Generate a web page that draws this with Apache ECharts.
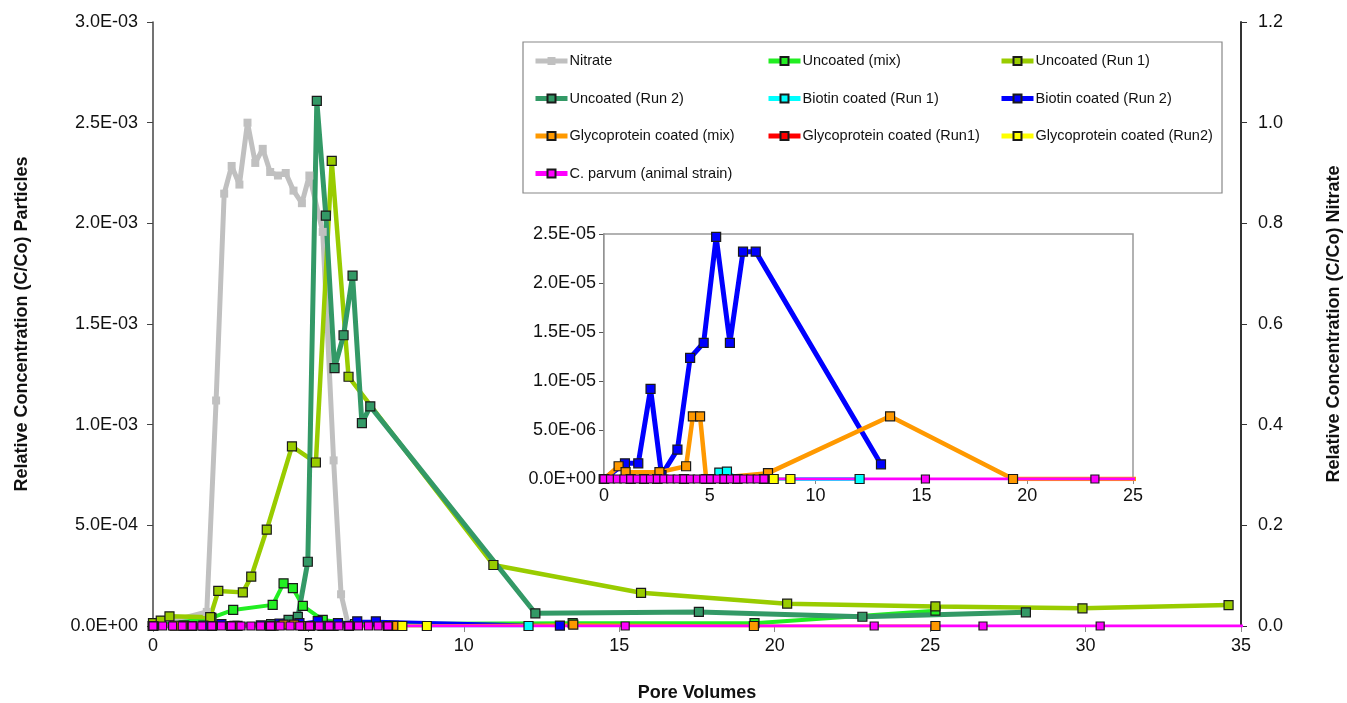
<!DOCTYPE html>
<html>
<head>
<meta charset="utf-8">
<title>Pore volumes breakthrough</title>
<script src="https://cdn.jsdelivr.net/npm/echarts@6/dist/echarts.min.js"></script>
<style>
  html, body { margin: 0; padding: 0; background: #fff; }
  #chart { width: 1347px; height: 703px; }
</style>
</head>
<body>
<div id="chart"></div>
<script>
// [pore volumes, C/Co]
const nitrate = [[0, 0], [1.73, 0.028], [2.03, 0.448], [2.29, 0.859], [2.53, 0.914], [2.78, 0.877], [3.04, 1.0],
    [3.29, 0.92], [3.53, 0.948], [3.77, 0.902], [4.02, 0.895], [4.27, 0.9], [4.52, 0.865], [4.79, 0.84],
    [5.03, 0.895], [5.46, 0.783], [5.81, 0.329], [6.05, 0.063], [6.29, 0]];
const uncoatedMix = [[0, 0], [1.88, 4.0e-5], [2.58, 8.0e-5], [3.85, 1.05e-4], [4.2, 2.12e-4], [4.5, 1.88e-4],
    [4.82, 1.0e-4], [5.46, 3.0e-5], [6.5, 1.0e-5], [13.5, 1.4e-5], [19.35, 1.4e-5], [25.17, 7.6e-5]];
const uncoatedRun1 = [[0, 1.4e-5], [0.25, 2.7e-5], [0.53, 4.8e-5], [1.84, 4.4e-5], [2.1, 1.74e-4], [2.89, 1.67e-4],
    [3.16, 2.45e-4], [3.66, 4.79e-4], [4.47, 8.92e-4], [5.24, 8.12e-4], [5.75, 2.31e-3], [6.29, 1.238e-3],
    [10.95, 3.03e-4], [15.7, 1.65e-4], [20.4, 1.11e-4], [25.17, 9.7e-5], [29.9, 8.8e-5], [34.6, 1.04e-4]];
const uncoatedRun2 = [[0, 0], [1.9, 0], [3.8, 1.0e-5], [4.36, 3.0e-5], [4.66, 4.5e-5], [4.98, 3.19e-4],
    [5.27, 2.608e-3], [5.56, 2.038e-3], [5.84, 1.281e-3], [6.13, 1.444e-3], [6.42, 1.74e-3], [6.72, 1.008e-3],
    [6.99, 1.091e-3], [12.3, 6.3e-5], [17.56, 7.0e-5], [22.82, 4.6e-5], [28.08, 6.8e-5]];
const biotinRun1 = [[0, 0], [2.52, 0], [5.04, 0], [5.45, 6.5e-7], [5.81, 7.5e-7], [6.3, 0], [12.08, 0]];
const biotinRun2 = [[0, 0], [0.99, 1.6e-6], [1.62, 1.6e-6], [2.2, 9.2e-6], [2.72, 4e-7], [3.47, 3.0e-6],
    [4.07, 1.235e-5], [4.71, 1.39e-5], [5.3, 2.47e-5], [5.95, 1.39e-5], [6.57, 2.32e-5], [7.17, 2.32e-5],
    [13.09, 1.5e-6]];
const glycoMix = [[0, 0], [0.69, 1.3e-6], [1.02, 7e-7], [2.62, 7e-7], [3.88, 1.3e-6], [4.2, 6.4e-6], [4.54, 6.4e-6],
    [4.83, 0], [7.75, 6e-7], [13.52, 6.4e-6], [19.33, 0], [25.17, 0]];
const glycoRun1 = [[0, 0], [1.26, 0], [2.52, 0], [3.78, 0], [5.04, 0], [6.3, 0], [7.56, 0]];
const glycoRun2 = [[0, 0], [1.89, 0], [3.78, 0], [5.67, 0], [7.56, 0], [8.02, 0], [8.81, 0]];
const cParvum = [[0, 0], [0.31, 0], [0.63, 0], [0.94, 0], [1.26, 0], [1.57, 0], [1.89, 0], [2.2, 0], [2.52, 0],
    [2.83, 0], [3.15, 0], [3.46, 0], [3.78, 0], [4.09, 0], [4.41, 0], [4.72, 0], [5.04, 0], [5.35, 0], [5.67, 0],
    [5.98, 0], [6.3, 0], [6.61, 0], [6.93, 0], [7.24, 0], [7.56, 0], [15.19, 0], [23.2, 0], [26.7, 0],
    [30.47, 0], [36.5, 0]];

const legendCols = [
    ['Nitrate', 'Uncoated (Run 2)', 'Glycoprotein coated (mix)', 'C. parvum (animal strain)'],
    ['Uncoated (mix)', 'Biotin coated (Run 1)', 'Glycoprotein coated (Run1)'],
    ['Uncoated (Run 1)', 'Biotin coated (Run 2)', 'Glycoprotein coated (Run2)']
];

const FONT = '"Liberation Sans", Arial, sans-serif';

// 3.0E-03 style labels like the spreadsheet
function sci(v) {
    const parts = v.toExponential(1).split('e');
    const n = parseInt(parts[1], 10);
    return parts[0] + 'E' + (n < 0 ? '-' : '+') + String(Math.abs(n)).padStart(2, '0');
}

function line(name, data, color, width, extra) {
    return Object.assign({
        name: name,
        type: 'line',
        data: data,
        symbol: 'rect',
        symbolSize: 9,
        lineStyle: { color: color, width: width },
        itemStyle: { color: color, borderColor: '#1a1a1a', borderWidth: 1.2 },
        emphasis: { disabled: true },
        animation: false
    }, extra || {});
}

const series = [
    line('Nitrate', nitrate, '#c0c0c0', 5, {
        yAxisIndex: 1, symbolSize: 8, itemStyle: { color: '#c0c0c0', borderWidth: 0 }
    }),
    line('Uncoated (mix)', uncoatedMix, '#22ee22', 4),
    line('Uncoated (Run 1)', uncoatedRun1, '#99cc00', 4.5),
    line('Uncoated (Run 2)', uncoatedRun2, '#339966', 5),
    line('Biotin coated (Run 1)', biotinRun1, '#00ffff', 3),
    line('Biotin coated (Run 2)', biotinRun2, '#0000ff', 3),
    line('Glycoprotein coated (mix)', glycoMix, '#ff9900', 3),
    line('Glycoprotein coated (Run1)', glycoRun1, '#ff0000', 3),
    line('Glycoprotein coated (Run2)', glycoRun2, '#ffff00', 3),
    line('C. parvum (animal strain)', cParvum, '#ff00ff', 3, { symbolSize: 8 })
];

// the inset repeats the coated runs on a finer scale
const insetSeries = [
    line('Biotin coated (Run 1)', biotinRun1, '#00ffff', 4),
    line('Biotin coated (Run 2)', biotinRun2, '#0000ff', 5),
    line('Glycoprotein coated (mix)', glycoMix, '#ff9900', 4.5),
    line('Glycoprotein coated (Run1)', glycoRun1, '#ff0000', 3),
    line('Glycoprotein coated (Run2)', glycoRun2, '#ffff00', 3),
    line('C. parvum (animal strain)', cParvum, '#ff00ff', 3, { symbolSize: 8 })
].map(s => Object.assign(s, { xAxisIndex: 1, yAxisIndex: 2 }));

const labelStyle = { fontSize: 18, color: '#111', fontFamily: FONT };
const nameStyle = { fontSize: 18, fontWeight: 'bold', color: '#111', fontFamily: FONT };

const legendLefts = [533, 766, 999];

const option = {
    backgroundColor: '#fff',
    textStyle: { fontFamily: FONT },
    animation: false,
    grid: [
        { left: 153, right: 106, top: 22, bottom: 77, outerBoundsMode: 'none', containLabel: false },
        { left: 604, right: 214, top: 234, bottom: 224, show: true, backgroundColor: '#fff',
          borderColor: '#999', borderWidth: 1.5, z: 1, outerBoundsMode: 'none', containLabel: false }
    ],
    legend: legendCols.map((col, i) => ({
        data: col,
        orient: 'vertical',
        left: legendLefts[i],
        top: 53,
        padding: 0,
        itemWidth: 32,
        itemHeight: 10,
        itemGap: 21.5,
        selectedMode: false,
        lineStyle: { width: 5 },
        textStyle: { fontSize: 14.5, color: '#111', fontFamily: FONT, lineHeight: 16, padding: [0, 0, 0, -3] }
    })),
    graphic: [{
        type: 'rect',
        shape: { x: 523, y: 42, width: 699, height: 151 },
        style: { fill: null, stroke: '#888', lineWidth: 1.2 },
        silent: true
    }],
    xAxis: [
        {
            type: 'value', gridIndex: 0, min: 0, max: 35, interval: 5,
            name: 'Pore Volumes', nameLocation: 'middle', nameGap: 58, nameTextStyle: nameStyle,
            axisLine: { onZero: false, lineStyle: { color: '#888', width: 1.5 } },
            axisTick: { show: true, length: 6, lineStyle: { color: '#888' } },
            axisLabel: Object.assign({ margin: 11 }, labelStyle),
            splitLine: { show: false }
        },
        {
            type: 'value', gridIndex: 1, min: 0, max: 25, interval: 5,
            axisLine: { onZero: false, lineStyle: { color: '#888', width: 1.5 } },
            axisTick: { show: true, length: 5, lineStyle: { color: '#888' } },
            axisLabel: Object.assign({ margin: 8 }, labelStyle),
            splitLine: { show: false }
        }
    ],
    yAxis: [
        {
            type: 'value', gridIndex: 0, min: 0, max: 3e-3, interval: 5e-4,
            name: 'Relative Concentration (C/Co) Particles', nameLocation: 'middle', nameGap: 122,
            nameRotate: 90, nameTextStyle: nameStyle,
            axisLine: { show: true, lineStyle: { color: '#444', width: 1.5 } },
            axisTick: { show: true, length: 6, lineStyle: { color: '#444' } },
            axisLabel: Object.assign({ margin: 15, formatter: sci }, labelStyle),
            splitLine: { show: false }
        },
        {
            type: 'value', gridIndex: 0, position: 'right', min: 0, max: 1.2, interval: 0.2,
            name: 'Relative Concentration (C/Co) Nitrate', nameLocation: 'middle', nameGap: 84,
            nameRotate: 90, nameTextStyle: nameStyle,
            axisLine: { show: true, lineStyle: { color: '#333', width: 2 } },
            axisTick: { show: true, length: 6, lineStyle: { color: '#333' } },
            axisLabel: Object.assign({ margin: 17, formatter: v => v.toFixed(1) }, labelStyle),
            splitLine: { show: false }
        },
        {
            type: 'value', gridIndex: 1, min: 0, max: 2.5e-5, interval: 5e-6,
            axisLine: { show: true, lineStyle: { color: '#555', width: 1.5 } },
            axisTick: { show: true, length: 5, lineStyle: { color: '#555' } },
            axisLabel: Object.assign({ margin: 8, formatter: sci }, labelStyle),
            splitLine: { show: false }
        }
    ],
    series: series.concat(insetSeries)
};

const chart = echarts.init(document.getElementById('chart'));
chart.setOption(option);
</script>
</body>
</html>
